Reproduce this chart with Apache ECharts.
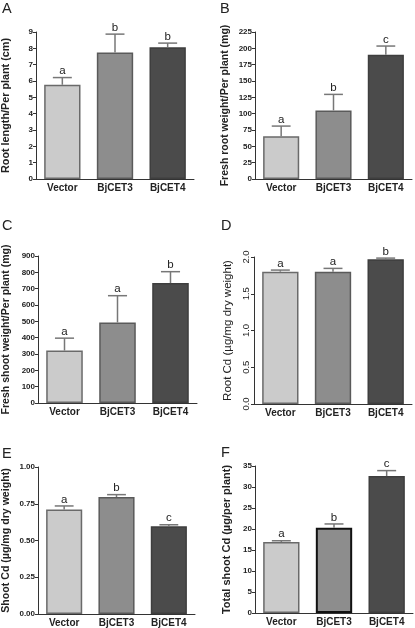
<!DOCTYPE html>
<html>
<head>
<meta charset="utf-8">
<script src="https://cdn.jsdelivr.net/npm/echarts@6/dist/echarts.min.js"></script>
<style>html,body{margin:0;padding:0;background:#fff;}#c{width:415px;height:628px;}</style>
</head>
<body>
<div id="c"></div>
<script>
const categories = ['Vector', 'BjCET3', 'BjCET4'];

const rootLength = [5.77, 7.75, 8.07];
const rootLengthErr = [0.44, 1.12, 0.25];
const rootLengthSig = ['a', 'b', 'b'];

const freshRoot = [65.5, 105, 190];
const freshRootErr = [15.5, 24.5, 13.5];
const freshRootSig = ['a', 'b', 'c'];

const freshShoot = [321, 493, 734];
const freshShootErr = [76, 164, 70];
const freshShootSig = ['a', 'a', 'b'];

const rootCd = [1.80, 1.80, 1.97];
const rootCdErr = [0.022, 0.045, 0.015];
const rootCdSig = ['a', 'a', 'b'];

const shootCd = [0.711, 0.796, 0.597];
const shootCdErr = [0.024, 0.016, 0.01];
const shootCdSig = ['a', 'b', 'c'];

const totalCd = [16.9, 20.3, 32.6];
const totalCdErr = [0.3, 0.9, 1.3];
const totalCdSig = ['a', 'b', 'c'];

const panels = [
  {key:'A', vals:rootLength, err:rootLengthErr, sig:rootLengthSig, max:9, interval:1, dec:0,
   name:'Root length/Per plant (cm)', grid:{left:36, top:32, width:158, height:147}, nameGap:24, bold:true, nfs:10.8, lx:2, ly:1},
  {key:'B', vals:freshRoot, err:freshRootErr, sig:freshRootSig, max:225, interval:25, dec:0,
   name:'Fresh root weight/Per plant (mg)', grid:{left:255, top:32, width:157, height:147}, nameGap:24, bold:true, nfs:10.5, lx:220, ly:1},
  {key:'C', vals:freshShoot, err:freshShootErr, sig:freshShootSig, max:900, interval:100, dec:0,
   name:'Fresh shoot weight/Per plant (mg)', grid:{left:38, top:256, width:159, height:147}, nameGap:26, bold:true, nfs:10.5, lx:2, ly:218},
  {key:'D', vals:rootCd, err:rootCdErr, sig:rootCdSig, max:2, interval:0.5, dec:1,
   name:'Root Cd (\u00b5g/mg dry weight)', grid:{left:254, top:257, width:158, height:147}, nameGap:20, bold:false, nfs:11.5, rotate:90, lx:221, ly:218},
  {key:'E', vals:shootCd, err:shootCdErr, sig:shootCdSig, max:1, interval:0.25, dec:2,
   name:'Shoot Cd (\u00b5g/mg dry weight)', grid:{left:38, top:467, width:157, height:147}, nameGap:26, bold:true, nfs:10.6, lx:2, ly:446},
  {key:'F', vals:totalCd, err:totalCdErr, sig:totalCdSig, max:35, interval:5, dec:0,
   name:'Total shoot Cd (\u00b5g/per plant)', grid:{left:255, top:466, width:158, height:147}, nameGap:23, bold:true, nfs:11, lx:221, ly:445}
];

const fills = ['#cbcbcb', '#8d8d8d', '#4b4b4b'];
const borders = ['#6a6a6a', '#5a5a5a', '#3e3e3e'];
const FONT = 'Liberation Sans';

const grids = [], xAxes = [], yAxes = [], series = [], graphics = [];

panels.forEach((p, i) => {
  grids.push(Object.assign({containLabel:false}, p.grid));
  xAxes.push({
    type:'category', gridIndex:i, data:categories,
    axisLine:{lineStyle:{color:'#333', width:1}},
    axisTick:{show:false},
    axisLabel:{fontFamily:FONT, fontWeight:'bold', fontSize:10, color:'#222', margin:4}
  });
  yAxes.push({
    type:'value', gridIndex:i, min:0, max:p.max, interval:p.interval,
    splitLine:{show:false},
    axisLine:{show:true, lineStyle:{color:'#333', width:1}},
    axisTick:{show:true, length:3, lineStyle:{color:'#333'}},
    axisLabel:{fontFamily:FONT, fontWeight:p.bold ? 'bold' : 'normal', fontSize:p.bold ? 8 : 9.5,
      color:'#222', margin:p.rotate ? 3 : 3, rotate:p.rotate || 0,
      formatter: v => v.toFixed(p.dec)},
    name:p.name, nameLocation:'middle', nameGap:p.nameGap,
    nameTextStyle:{fontFamily:FONT, fontWeight:p.bold ? 'bold' : 'normal', fontSize:p.nfs, color:'#222'}
  });
  series.push({
    type:'bar', xAxisIndex:i, yAxisIndex:i, barWidth:'69%',
    data:p.vals.map((v, k) => ({value:v, itemStyle:{color:fills[k],
      borderColor:(p.key === 'F' && k === 1) ? '#111' : borders[k],
      borderWidth:(p.key === 'F' && k === 1) ? 2 : 1.5}})),
    z:2
  });
  series.push({
    type:'custom', xAxisIndex:i, yAxisIndex:i, z:3,
    data:p.vals.map((v, k) => [k, v, p.err[k]]),
    renderItem:(params, api) => {
      const k = api.value(0), v = api.value(1), e = api.value(2);
      const base = api.coord([k, v]);
      const top = api.coord([k, v + e]);
      const band = api.size([1, 0])[0];
      const hw = band * 0.18;
      return {type:'group', children:[
        {type:'line', shape:{x1:top[0], y1:base[1], x2:top[0], y2:top[1]}, style:{stroke:'#777', lineWidth:1.5}},
        {type:'line', shape:{x1:top[0]-hw, y1:top[1], x2:top[0]+hw, y2:top[1]}, style:{stroke:'#777', lineWidth:1.5}},
        {type:'text', x:top[0], y:top[1]-0.5, style:{text:p.sig[k], align:'center', verticalAlign:'bottom',
          fontFamily:FONT, fontSize:11.5, fill:'#222'}}
      ]};
    }
  });
  graphics.push({type:'text', left:p.lx, top:p.ly, style:{text:p.key, fontFamily:FONT, fontSize:14.5, fill:'#222'}});
});

const chart = echarts.init(document.getElementById('c'), null, {renderer:'canvas'});
chart.setOption({
  animation:false,
  backgroundColor:'#fff',
  grid:grids, xAxis:xAxes, yAxis:yAxes, series:series, graphic:graphics
});
</script>
</body>
</html>
